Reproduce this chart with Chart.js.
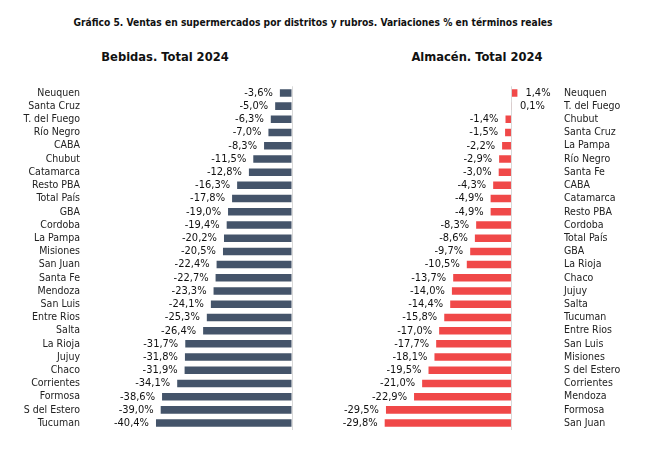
<!DOCTYPE html>
<html>
<head>
<meta charset="utf-8">
<script src="https://cdn.jsdelivr.net/npm/chart.js@4.4.1/dist/chart.umd.min.js"></script>
<style>
  body { margin: 0; background: #fff; width: 666px; height: 460px; position: relative; overflow: hidden;
         font-family: 'DejaVu Sans Condensed', sans-serif; }
  .t { position: absolute; font-weight: bold; color: #111; white-space: nowrap; }
  #titulo { left: 0; width: 626px; text-align: center; top: 17px; font-size: 10.2px; }
  #sub1 { left: 15px; width: 300px; text-align: center; top: 49px; font-size: 12.8px; }
  #sub2 { left: 327px; width: 300px; text-align: center; top: 49px; font-size: 12.8px; }
  .box { position: absolute; top: 70px; height: 376px; }
</style>
</head>
<body>
<div class="t" id="titulo">Gráfico 5. Ventas en supermercados por distritos y rubros. Variaciones % en términos reales</div>
<div class="t" id="sub1">Bebidas. Total 2024</div>
<div class="t" id="sub2">Almacén. Total 2024</div>
<div class="box" style="left:0;width:300px"><canvas id="c1"></canvas></div>
<div class="box" style="left:336px;width:330px"><canvas id="c2"></canvas></div>
<script>
// Bebidas
const bebidasLabels = ['Neuquen', 'Santa Cruz', 'T. del Fuego', 'Río Negro', 'CABA', 'Chubut', 'Catamarca',
  'Resto PBA', 'Total País', 'GBA', 'Cordoba', 'La Pampa', 'Misiones', 'San Juan', 'Santa Fe', 'Mendoza',
  'San Luis', 'Entre Rios', 'Salta', 'La Rioja', 'Jujuy', 'Chaco', 'Corrientes', 'Formosa', 'S del Estero', 'Tucuman'];
const bebidasValues = [-3.6, -5.0, -6.3, -7.0, -8.3, -11.5, -12.8, -16.3, -17.8, -19.0, -19.4, -20.2, -20.5,
  -22.4, -22.7, -23.3, -24.1, -25.3, -26.4, -31.7, -31.8, -31.9, -34.1, -38.6, -39.0, -40.4];

// Almacén
const almacenLabels = ['Neuquen', 'T. del Fuego', 'Chubut', 'Santa Cruz', 'La Pampa', 'Río Negro', 'Santa Fe',
  'CABA', 'Catamarca', 'Resto PBA', 'Cordoba', 'Total País', 'GBA', 'La Rioja', 'Chaco', 'Jujuy', 'Salta',
  'Tucuman', 'Entre Rios', 'San Luis', 'Misiones', 'S del Estero', 'Corrientes', 'Mendoza', 'Formosa', 'San Juan'];
const almacenValues = [1.4, 0.1, -1.4, -1.5, -2.2, -2.9, -3.0, -4.3, -4.9, -4.9, -8.3, -8.6, -9.7, -10.5,
  -13.7, -14.0, -14.4, -15.8, -17.0, -17.7, -18.1, -19.5, -21.0, -22.9, -29.5, -29.8];

const FONT = "'DejaVu Sans Condensed', sans-serif";

function fmt(v) {
  return v.toFixed(1).replace('.', ',') + '%';
}

// etiquetas de valor al lado de cada barra
const valueLabels = {
  id: 'valueLabels',
  afterDatasetsDraw(chart) {
    const ctx = chart.ctx;
    const meta = chart.getDatasetMeta(0);
    const vals = chart.data.datasets[0].data;
    ctx.save();
    ctx.font = '11px ' + FONT;
    ctx.fillStyle = '#111';
    ctx.textBaseline = 'middle';
    meta.data.forEach((bar, i) => {
      const v = vals[i];
      if (v < 0) {
        ctx.textAlign = 'right';
        ctx.fillText(fmt(v), bar.x - 7, bar.y);
      } else {
        ctx.textAlign = 'left';
        ctx.fillText(fmt(v), bar.x + 8, bar.y);
      }
    });
    ctx.restore();
  }
};

function makeChart(id, labels, values, color, opts) {
  return new Chart(document.getElementById(id), {
    type: 'bar',
    data: {
      labels: labels,
      datasets: [{
        data: values,
        backgroundColor: color,
        barPercentage: 0.57,
        categoryPercentage: 1
      }]
    },
    options: {
      indexAxis: 'y',
      responsive: true,
      maintainAspectRatio: false,
      animation: false,
      layout: { padding: opts.padding },
      plugins: { legend: { display: false }, tooltip: { enabled: false } },
      scales: {
        x: {
          min: opts.min,
          max: opts.max,
          ticks: { display: false, stepSize: 10 },
          border: { display: false },
          grid: {
            drawTicks: false,
            color: (c) => (c.tick && c.tick.value === 0 ? '#d9d9d9' : 'rgba(0,0,0,0)')
          }
        },
        y: {
          position: opts.axisPos,
          afterFit: (axis) => { axis.width = opts.axisWidth; },
          grid: { display: false, drawTicks: false },
          border: { display: false },
          ticks: { padding: 10, color: '#222', font: { family: FONT, size: 10.5 }, autoSkip: false }
        }
      }
    },
    plugins: [valueLabels]
  });
}

makeChart('c1', bebidasLabels, bebidasValues, '#44546a', {
  min: -60, max: 0, axisPos: 'left', axisWidth: 90,
  padding: { top: 8.8, bottom: 9.8, left: 0, right: 8 }
});

makeChart('c2', almacenLabels, almacenValues, '#f04848', {
  min: -40, max: 10, axisPos: 'right', axisWidth: 100,
  padding: { top: 8.8, bottom: 9.8, left: 5.3, right: 12 }
});
</script>
</body>
</html>
